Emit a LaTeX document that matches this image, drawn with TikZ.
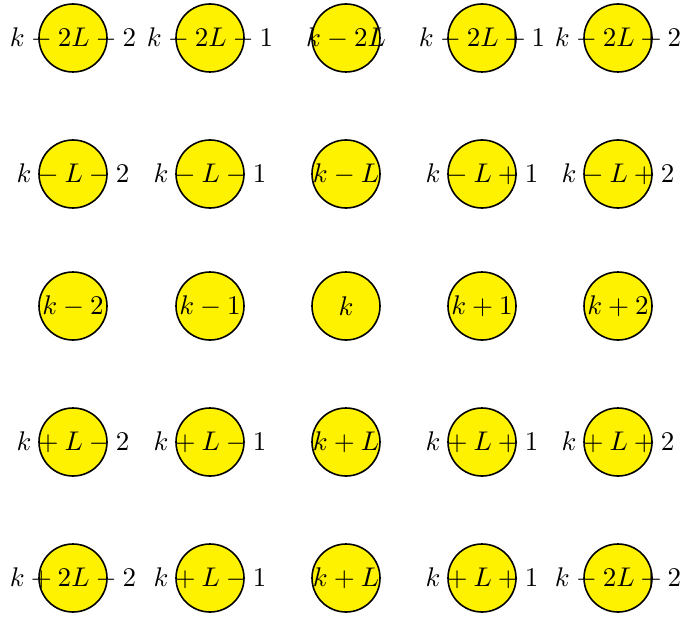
\documentclass[tikz,border=0pt]{standalone}
\begin{document}
\begin{tikzpicture}[x=0.5pt,y=-0.5pt,
  cell/.style={circle,draw=black,fill=yellow,thick,minimum size=34pt,inner sep=0pt},
  lab/.style={scale=1.35,inner sep=0pt}]
\useasboundingbox (0,0) rectangle (683,620);
\foreach \r/\y/\la/\lb/\lc/\ld/\le in {
  1/38/k-2L-2/k-2L-1/k-2L/k-2L+1/k-2L+2,
  2/174/k-L-2/k-L-1/k-L/k-L+1/k-L+2,
  3/306/k-2/k-1/k/k+1/k+2,
  4/442/k+L-2/k+L-1/k+L/k+L+1/k+L+2,
  5/578/k+2L-2/k+L-1/k+L/k+L+1/k-2L+2} {
  \node[cell] (n\r1) at (73,\y) {};
  \node[cell] (n\r2) at (210,\y) {};
  \node[cell] (n\r3) at (346,\y) {};
  \node[cell] (n\r4) at (482,\y) {};
  \node[cell] (n\r5) at (618,\y) {};
  \node[lab] (t\r1) at (n\r1) {$\la$};
  \node[lab] (t\r2) at (n\r2) {$\lb$};
  \node[lab] (t\r3) at (n\r3) {$\lc$};
  \node[lab] (t\r4) at (n\r4) {$\ld$};
  \node[lab] (t\r5) at (n\r5) {$\le$};
}
\end{tikzpicture}
\end{document}
